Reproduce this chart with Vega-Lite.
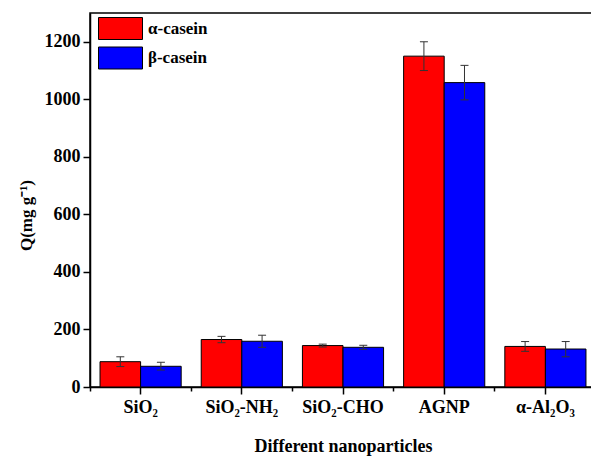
{
  "$schema": "https://vega.github.io/schema/vega-lite/v6.json",
  "width": 506,
  "height": 374,
  "autosize": {"type": "none"},
  "padding": {"left": 90, "top": 13, "right": 0, "bottom": 69},
  "config": {
    "font": "Times New Roman",
    "view": {"stroke": "black", "strokeWidth": 1.5}
  },
  "data": {
    "values": [
      {"np": "SiO₂", "casein": "α-casein", "q": 88, "lo": 71, "hi": 105},
      {"np": "SiO₂", "casein": "β-casein", "q": 72, "lo": 59, "hi": 86},
      {"np": "SiO₂-NH₂", "casein": "α-casein", "q": 165, "lo": 154, "hi": 176},
      {"np": "SiO₂-NH₂", "casein": "β-casein", "q": 159, "lo": 138, "hi": 180},
      {"np": "SiO₂-CHO", "casein": "α-casein", "q": 144, "lo": 139, "hi": 149},
      {"np": "SiO₂-CHO", "casein": "β-casein", "q": 138, "lo": 131, "hi": 145},
      {"np": "AGNP", "casein": "α-casein", "q": 1150, "lo": 1100, "hi": 1200},
      {"np": "AGNP", "casein": "β-casein", "q": 1058, "lo": 998, "hi": 1118},
      {"np": "α-Al₂O₃", "casein": "α-casein", "q": 141, "lo": 124, "hi": 158},
      {"np": "α-Al₂O₃", "casein": "β-casein", "q": 132, "lo": 105, "hi": 158}
    ]
  },
  "resolve": {"axis": {"x": "independent"}},
  "layer": [
    {
      "mark": {"type": "bar", "stroke": "black", "strokeWidth": 1, "opacity": 1},
      "encoding": {
        "x": {
          "field": "np", "type": "nominal",
          "sort": ["SiO₂", "SiO₂-NH₂", "SiO₂-CHO", "AGNP", "α-Al₂O₃"],
          "scale": {"paddingInner": 0, "paddingOuter": 0},
          "axis": {
            "orient": "bottom",
            "title": "Different nanoparticles",
            "titleFont": "Times New Roman",
            "titleFontSize": 18, "titleFontWeight": "bold", "titleColor": "black", "titlePadding": 21,
            "labelFont": "Times New Roman",
            "labelFontSize": 18, "labelFontWeight": "bold", "labelColor": "black", "labelPadding": 4, "labelAngle": 0,
            "tickSize": 7, "tickWidth": 1.5, "tickColor": "black",
            "domainColor": "black", "domainWidth": 1.5
          }
        },
        "xOffset": {
          "field": "casein", "type": "nominal",
          "sort": ["α-casein", "β-casein"],
          "scale": {"paddingInner": 0, "paddingOuter": 0.247}
        },
        "y": {
          "field": "q", "type": "quantitative",
          "scale": {"domain": [0, 1300], "nice": false},
          "axis": {
            "title": "Q(mg g⁻¹)",
            "titleFont": "Times New Roman",
            "titleFontSize": 17, "titleFontWeight": "bold", "titleColor": "black", "titlePadding": 9,
            "titleY": 202,
            "values": [0, 100, 200, 300, 400, 500, 600, 700, 800, 900, 1000, 1100, 1200],
            "format": "d",
            "labelExpr": "datum.value % 200 === 0 ? datum.label : ''",
            "labelFont": "Times New Roman",
            "labelFontSize": 18, "labelFontWeight": "bold", "labelColor": "black", "labelPadding": 3,
            "tickSize": {"condition": {"test": "datum.value % 200 === 0", "value": 7}, "value": 4},
            "tickWidth": 1.5, "tickColor": "black",
            "domainColor": "black", "domainWidth": 1.5,
            "grid": false
          }
        },
        "color": {
          "field": "casein", "type": "nominal",
          "scale": {"domain": ["α-casein", "β-casein"], "range": ["#ff0000", "#0000ff"]},
          "legend": {
            "title": null,
            "orient": "none", "legendX": 19, "legendY": 4,
            "padding": 0,
            "symbolType": "M-2,-1H2V1H-2Z",
            "symbolSize": 484,
            "symbolStrokeColor": "black", "symbolStrokeWidth": 1, "symbolOpacity": 1,
            "labelFont": "Times New Roman", "labelFontSize": 17, "labelFontWeight": "bold", "labelColor": "black",
            "labelOffset": 16, "rowPadding": 2.5
          }
        }
      }
    },
    {
      "mark": {"type": "rule", "color": "#333333", "strokeWidth": 1},
      "encoding": {
        "x": {
          "field": "np", "type": "nominal",
          "sort": ["SiO₂", "SiO₂-NH₂", "SiO₂-CHO", "AGNP", "α-Al₂O₃"],
          "axis": {
            "orient": "bottom", "bandPosition": 0, "labels": false, "title": null,
            "domain": false, "tickSize": 4, "tickWidth": 1.5, "tickColor": "black"
          }
        },
        "xOffset": {"field": "casein", "type": "nominal", "sort": ["α-casein", "β-casein"]},
        "y": {"field": "lo", "type": "quantitative"},
        "y2": {"field": "hi"}
      }
    },
    {
      "mark": {"type": "tick", "orient": "horizontal", "size": 8, "thickness": 1, "color": "#333333", "opacity": 1},
      "encoding": {
        "x": {"field": "np", "type": "nominal", "sort": ["SiO₂", "SiO₂-NH₂", "SiO₂-CHO", "AGNP", "α-Al₂O₃"], "axis": null},
        "xOffset": {"field": "casein", "type": "nominal", "sort": ["α-casein", "β-casein"]},
        "y": {"field": "lo", "type": "quantitative"}
      }
    },
    {
      "mark": {"type": "tick", "orient": "horizontal", "size": 8, "thickness": 1, "color": "#333333", "opacity": 1},
      "encoding": {
        "x": {"field": "np", "type": "nominal", "sort": ["SiO₂", "SiO₂-NH₂", "SiO₂-CHO", "AGNP", "α-Al₂O₃"], "axis": null},
        "xOffset": {"field": "casein", "type": "nominal", "sort": ["α-casein", "β-casein"]},
        "y": {"field": "hi", "type": "quantitative"}
      }
    }
  ]
}
